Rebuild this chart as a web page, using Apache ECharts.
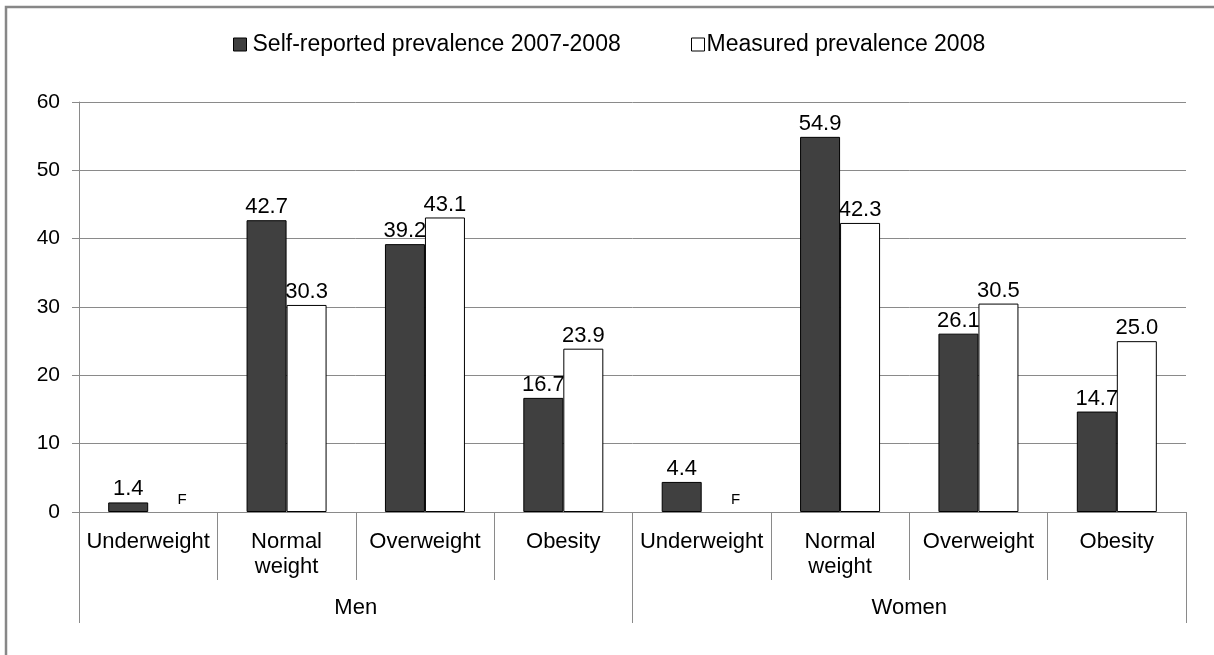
<!DOCTYPE html>
<html>
<head>
<meta charset="utf-8">
<title>Self-reported and measured prevalence</title>
<script src="https://cdn.jsdelivr.net/npm/echarts@6/dist/echarts.min.js"></script>
<style>
  html, body { margin: 0; padding: 0; background: #fff; }
  #chart { width: 1214px; height: 655px; }
</style>
</head>
<body>
<div id="chart"></div>
<script>
// Weight classes, repeated for each sex
const categories = ['Underweight', 'Normal\nweight', 'Overweight', 'Obesity',
                    'Underweight', 'Normal\nweight', 'Overweight', 'Obesity'];
const groups = ['Men', 'Women'];
const seriesNames = ['Self-reported prevalence 2007-2008', 'Measured prevalence 2008'];

// Percentages; 'F' marks an estimate too unreliable to publish
const selfReported = [1.4, 42.7, 39.2, 16.7, 4.4, 54.9, 26.1, 14.7];
const measured = ['F', 30.3, 43.1, 23.9, 'F', 42.3, 30.5, 25.0];

const yTicks = { min: 0, max: 60, step: 10 };

const FONT = "'Liberation Sans', Arial, sans-serif";
const GRID_GRAY = '#8a8a8a';

function toBarData(values) {
  return values.map(v => {
    if (typeof v === 'number') return v;
    return {
      value: 0,
      itemStyle: { borderWidth: 0 },
      label: { formatter: String(v), fontSize: 15, offset: [14, 0], distance: 5 }
    };
  });
}

const valueLabel = {
  show: true,
  position: 'top',
  distance: 2,
  color: '#000',
  fontFamily: FONT,
  fontSize: 22,
  formatter: p => (typeof p.value === 'number' ? p.value.toFixed(1) : p.value)
};

const chart = echarts.init(document.getElementById('chart'), null, { renderer: 'canvas' });

chart.setOption({
  backgroundColor: '#fff',
  animation: false,
  textStyle: { fontFamily: FONT },
  graphic: [{
    type: 'rect',
    shape: { x: 6, y: 7, width: 1400, height: 800 },
    style: { fill: 'none', stroke: '#878787', lineWidth: 2.5 },
    silent: true
  }],
  legend: [
    {
      data: [seriesNames[0]],
      left: 233, top: 33, padding: 0,
      itemWidth: 13, itemHeight: 13, itemGap: 0,
      icon: 'rect',
      textStyle: { fontSize: 23, color: '#000', fontFamily: FONT, padding: [0, 0, 0, 1] },
      itemStyle: { color: '#404040', borderColor: '#000', borderWidth: 1 }
    },
    {
      data: [seriesNames[1]],
      left: 691, top: 33, padding: 0,
      itemWidth: 13, itemHeight: 13, itemGap: 0,
      icon: 'rect',
      textStyle: { fontSize: 23, color: '#000', fontFamily: FONT, padding: [0, 0, 0, -3] },
      itemStyle: { color: '#fff', borderColor: '#000', borderWidth: 1 }
    }
  ],
  grid: { left: 79, right: 28, top: 102, bottom: 143, containLabel: false },
  xAxis: [
    {
      type: 'category',
      data: categories,
      position: 'bottom',
      axisLine: { show: true, lineStyle: { color: GRID_GRAY, width: 1 } },
      axisTick: { show: true, length: 68, lineStyle: { color: GRID_GRAY, width: 1 } },
      axisLabel: {
        margin: 17, color: '#000', fontSize: 22, lineHeight: 25,
        fontFamily: FONT, interval: 0
      },
      splitLine: { show: false }
    },
    {
      type: 'category',
      data: groups,
      position: 'bottom',
      axisLine: { show: false },
      axisTick: { show: true, length: 111, lineStyle: { color: GRID_GRAY, width: 1 } },
      axisLabel: { margin: 85, color: '#000', fontSize: 22, fontFamily: FONT, interval: 0 },
      splitLine: { show: false }
    }
  ],
  yAxis: {
    type: 'value',
    min: yTicks.min, max: yTicks.max, interval: yTicks.step,
    axisLine: { show: true, lineStyle: { color: GRID_GRAY, width: 1 } },
    axisTick: { show: true, length: 7, lineStyle: { color: GRID_GRAY, width: 1 } },
    axisLabel: { margin: 19, color: '#000', fontSize: 21, fontFamily: FONT },
    splitLine: { show: true, lineStyle: { color: GRID_GRAY, width: 1 } }
  },
  series: [
    {
      name: seriesNames[0],
      type: 'bar',
      xAxisIndex: 0,
      data: toBarData(selfReported),
      barWidth: 40,
      barGap: '0%',
      z: 2,
      itemStyle: { color: '#404040', borderColor: '#000', borderWidth: 1 },
      label: valueLabel
    },
    {
      name: seriesNames[1],
      type: 'bar',
      xAxisIndex: 0,
      data: toBarData(measured),
      barWidth: 40,
      barGap: '0%',
      z: 3,
      itemStyle: { color: '#fff', borderColor: '#000', borderWidth: 1 },
      label: valueLabel
    }
  ]
});
</script>
</body>
</html>
